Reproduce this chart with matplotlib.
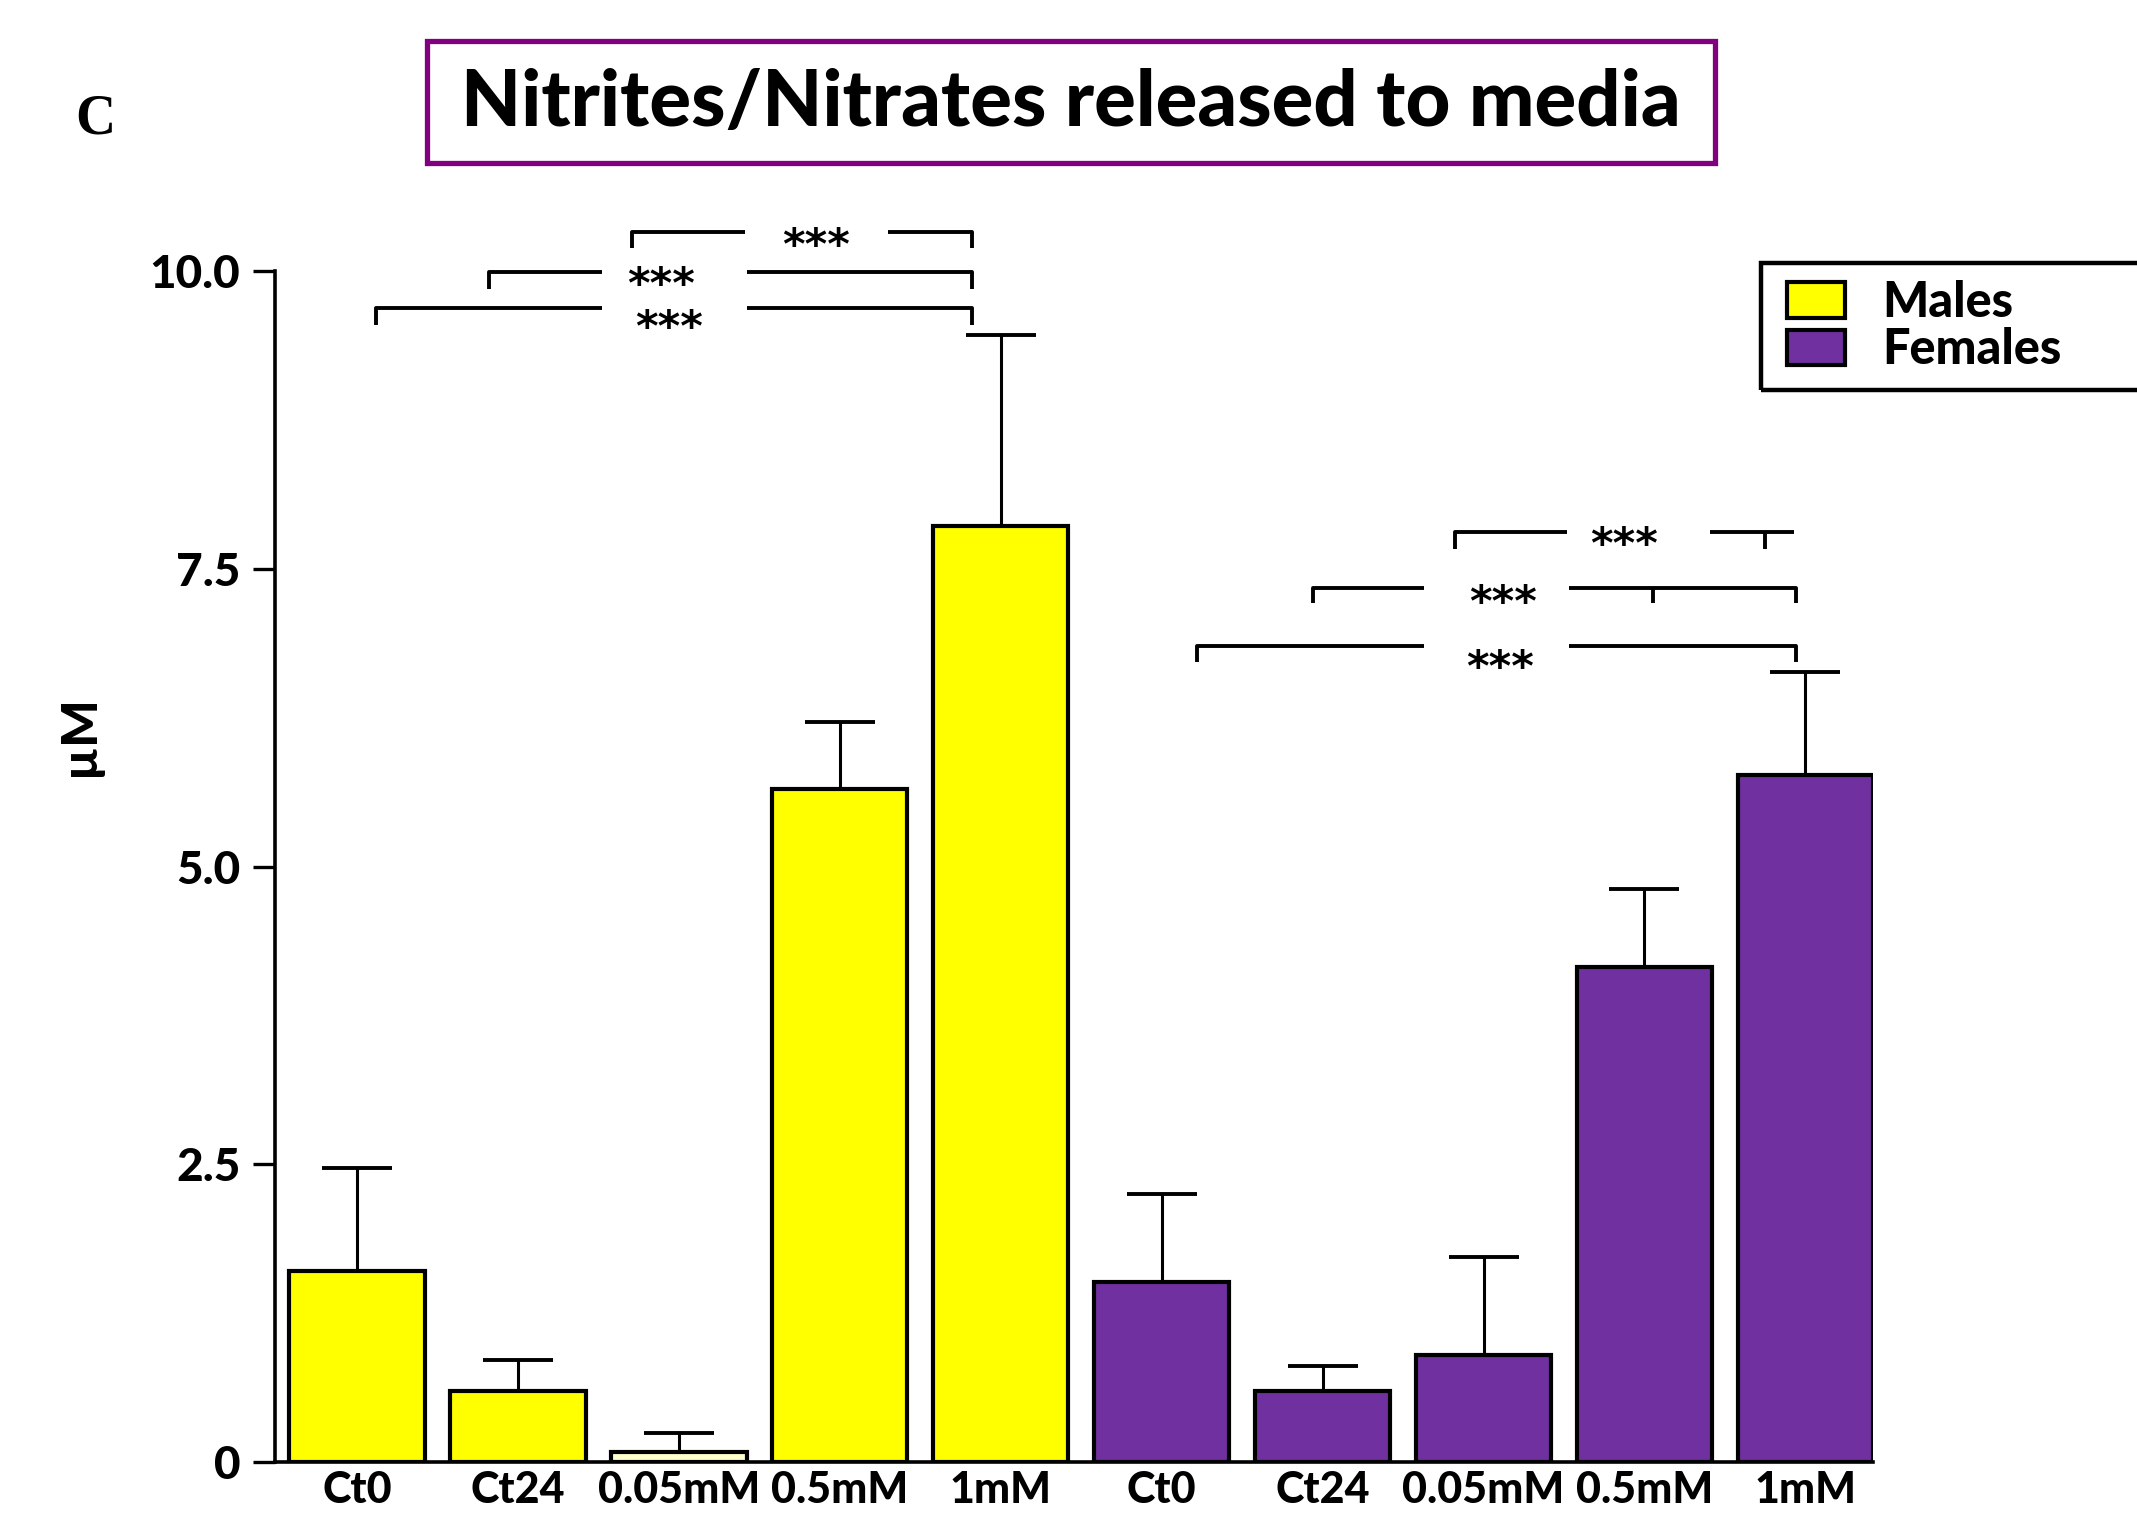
import matplotlib
matplotlib.use("Agg")
import matplotlib.pyplot as plt
from matplotlib.patches import Rectangle, Patch
import numpy as np

# ---- data ----
groups = ["Ct0", "Ct24", "0.05mM", "0.5mM", "1mM"]
males_mean = [1.60, 0.60, 0.087, 5.65, 7.86]
males_err = [0.87, 0.26, 0.16, 0.56, 1.60]
females_mean = [1.51, 0.60, 0.90, 4.16, 5.77]
females_err = [0.74, 0.21, 0.82, 0.65, 0.86]

tick_labels = groups + groups
y_ticks = [0, 2.5, 5.0, 7.5, 10.0]
y_tick_labels = ["0", "2.5", "5.0", "7.5", "10.0"]

# significance brackets:
# (x_left, x_right, y, drop, gap_left, gap_right, star_x, star_y, inner_drops, right_drop)
male_brackets = [
    (1.71, 3.82, 10.33, 0.14, 2.41, 3.30, 2.85, 10.32, [], True),
    (0.82, 3.82, 9.99, 0.14, 1.52, 2.42, 1.89, 9.99, [], True),
    (0.12, 3.82, 9.69, 0.14, 1.52, 2.42, 1.94, 9.63, [], True),
]
female_brackets = [
    (6.82, 8.93, 7.81, 0.14, 7.52, 8.41, 7.87, 7.81, [8.75], False),
    (5.94, 8.94, 7.34, 0.13, 6.63, 7.53, 7.12, 7.32, [8.05], True),
    (5.22, 8.94, 6.85, 0.13, 6.63, 7.53, 7.10, 6.78, [], True),
]

YELLOW = "#FFFF00"
PALE_YELLOW = "#FFFFCC"
PURPLE = "#7030A0"
BOX_PURPLE = "#800080"

FONT = "Lato"
WEIGHT = "black"

W, H = 2137, 1526
fig = plt.figure(figsize=(W / 100, H / 100), dpi=100)
ax = fig.add_axes([275 / W, 1 - 1462 / H, (1873 - 275) / W, (1462 - 271) / H])

x = np.arange(10)
means = males_mean + females_mean
errs = males_err + females_err
colors = [YELLOW, YELLOW, PALE_YELLOW, YELLOW, YELLOW] + [PURPLE] * 5

ax.bar(x, means, width=0.84, color=colors, edgecolor="black", linewidth=3.0, zorder=3)
ax.errorbar(x, means, yerr=[np.zeros(10), errs], fmt="none", ecolor="black",
            elinewidth=2.2, capsize=25, capthick=2.8, zorder=2)

ax.set_xlim(-0.51, 9.42)
ax.set_ylim(0, 10)
ax.set_yticks(y_ticks)
ax.set_yticklabels(y_tick_labels, fontfamily=FONT, fontweight=WEIGHT, fontsize=33)
ax.set_xticks(x)
ax.set_xticklabels(tick_labels, fontfamily=FONT, fontweight=WEIGHT, fontsize=31)
ax.tick_params(axis="x", length=0, pad=6)
ax.tick_params(axis="y", length=16, width=2.4, pad=9)
for s in ["top", "right"]:
    ax.spines[s].set_visible(False)
for s in ["left", "bottom"]:
    ax.spines[s].set_linewidth(2.6)


def bracket(b):
    xl, xr, y, d, gl, gr, sx, sy, inner, right_drop = b
    kw = dict(color="black", lw=2.8, clip_on=False, solid_capstyle="butt", zorder=4)
    ax.plot([xl, xl, gl], [y - d, y, y], **kw)
    if right_drop:
        ax.plot([gr, xr, xr], [y, y, y - d], **kw)
    else:
        ax.plot([gr, xr], [y, y], **kw)
    for ex in inner:
        ax.plot([ex, ex], [y, y - d], **kw)
    ax.text(sx, sy - 0.12, "***", ha="center", va="center", fontsize=31,
            fontfamily="DejaVu Sans", fontweight="bold", clip_on=False)


for b in male_brackets + female_brackets:
    bracket(b)

# panel letter and title
fig.text(95 / W, 1 - 120 / H, "C", fontfamily="Liberation Serif", fontweight="bold",
         fontsize=40, ha="center", va="center")
fig.patches.append(Rectangle((427 / W, 1 - 163 / H), (1715 - 427) / W, (163 - 41) / H,
                             transform=fig.transFigure, fill=False,
                             edgecolor=BOX_PURPLE, linewidth=3.8))
fig.text(1071 / W, 1 - 104 / H, "Nitrites/Nitrates released to media",
         fontfamily=FONT, fontweight=WEIGHT, fontsize=56, ha="center", va="center")

fig.text(80 / W, 1 - 736 / H, "µM", rotation=90, fontfamily=FONT, fontweight=WEIGHT,
         fontsize=36, ha="center", va="center")

# legend
fig.patches.append(Rectangle((1761 / W, 1 - 390 / H), (2200 - 1761) / W, (390 - 263) / H,
                             transform=fig.transFigure, fill=False,
                             edgecolor="black", linewidth=3.2, clip_on=False))
handles = [Patch(facecolor=YELLOW, edgecolor="black", linewidth=3.0, label="Males"),
           Patch(facecolor=PURPLE, edgecolor="black", linewidth=3.0, label="Females")]
fig.legend(handles=handles, loc="upper left", bbox_to_anchor=(1753 / W, 1 - 246 / H),
           frameon=False, prop=dict(family=FONT, weight=WEIGHT, size=35),
           handlelength=1.2, handleheight=0.75, labelspacing=0.05, handletextpad=0.75,
           borderpad=0.2)

fig.savefig("out.png", dpi=100)
